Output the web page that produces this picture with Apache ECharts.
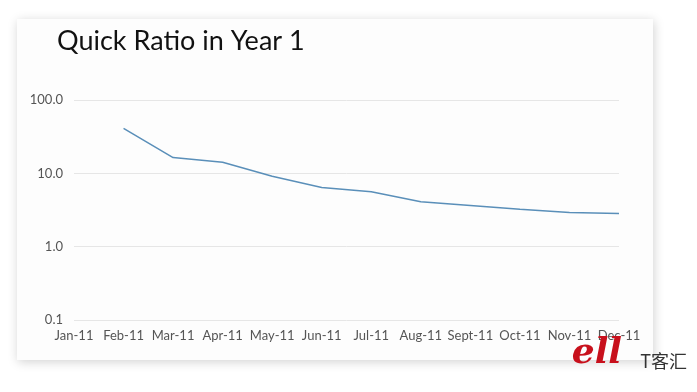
<!DOCTYPE html>
<html><head><meta charset="utf-8">
<script src="https://cdn.jsdelivr.net/npm/echarts@6/dist/echarts.min.js"></script>
<style>html,body{margin:0;padding:0;background:#fff}#c{width:697px;height:392px}</style>
</head><body><div id="c"></div>
<script>
var categories = ['Jan-11','Feb-11','Mar-11','Apr-11','May-11','Jun-11','Jul-11','Aug-11','Sept-11','Oct-11','Nov-11','Dec-11'];
var quickRatio = [null, 41, 16.4, 14.2, 9.1, 6.4, 5.6, 4.1, 3.65, 3.25, 2.92, 2.83];
var titleText = 'Quick Ratio in Year 1';

var chart = echarts.init(document.getElementById('c'));
chart.setOption({
  animation: false,
  backgroundColor: '#ffffff',
  graphic: [
    {type:'rect', z:-10, shape:{x:17,y:19,width:636,height:341},
     style:{fill:'#fdfdfd', shadowBlur:10, shadowColor:'rgba(0,0,0,0.18)', shadowOffsetX:1, shadowOffsetY:2}},
    {type:'text', left:57, top:28, style:{text:titleText, font:'27px "Lato", sans-serif', fill:'#111'}},
    {type:'text', right:75, top:336, z:100, style:{text:'ell', font:'italic bold 36px "DejaVu Serif", serif', fill:'#c8101c'}},
    {type:'text', right:10, top:352, z:100, style:{text:'T客汇', font:'18px "Noto Sans CJK SC", sans-serif', fill:'#333'}}
  ],
  title: {show:false},
  grid: {left:74, right:78, top:100, bottom:72, containLabel:false},
  xAxis: {
    type:'category', data:categories, boundaryGap:false,
    axisLine:{show:false}, axisTick:{show:false},
    axisLabel:{color:'#555', fontSize:13, fontFamily:'Lato, sans-serif', margin:9, interval:0}
  },
  yAxis: {
    type:'log', logBase:10, min:0.1, max:100,
    axisLine:{show:false}, axisTick:{show:false},
    splitLine:{lineStyle:{color:'#e6e6e6', width:1}},
    axisLabel:{color:'#555', fontSize:13, fontFamily:'Lato, sans-serif', margin:11,
      formatter:function(v){return Number(v).toFixed(1);}}
  },
  series: [{
    type:'line', data:quickRatio, showSymbol:false, connectNulls:false,
    lineStyle:{color:'#5a8fb9', width:1.5}
  }]
});
</script></body></html>
